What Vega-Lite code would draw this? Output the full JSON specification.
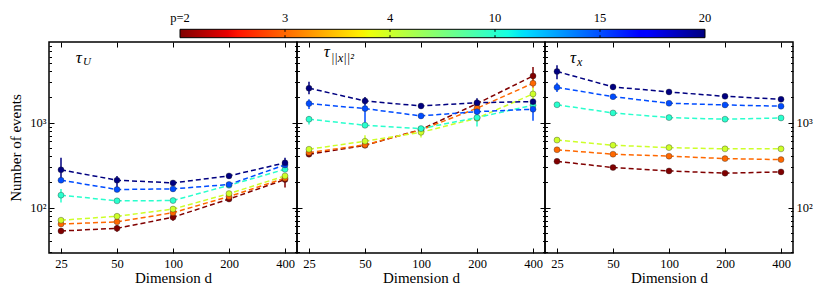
{
 "$schema": "https://vega.github.io/schema/vega-lite/v6.json",
 "padding": {"left": 8, "top": 11, "right": 5, "bottom": 5},
 "autosize": {"type": "pad"},
 "background": "white",
 "spacing": 0,
 "bounds": "flush",
 "config": {
  "font": "Liberation Serif, DejaVu Serif, serif",
  "view": {"stroke": "black", "strokeWidth": 1.5},
  "axis": {"grid": false, "domain": false, "tickColor": "black", "tickWidth": 1, "labelColor": "black", "labelFontSize": 12.5, "titleColor": "black", "titleFontSize": 15, "titleFontWeight": "normal", "labelFont": "Liberation Serif, DejaVu Serif, serif", "titleFont": "Liberation Serif, DejaVu Serif, serif"},
  "text": {"font": "Liberation Serif, DejaVu Serif, serif", "color": "black"}
 },
 "datasets": {
  "U": [
   {"d":25,"p":2,"n":53,"lo":51,"hi":55},{"d":50,"p":2,"n":57,"lo":52,"hi":62},{"d":100,"p":2,"n":77,"lo":70,"hi":87},{"d":200,"p":2,"n":126,"lo":120,"hi":132},{"d":400,"p":2,"n":214,"lo":172,"hi":247},
   {"d":25,"p":3,"n":64,"lo":62,"hi":66},{"d":50,"p":3,"n":68,"lo":66,"hi":70},{"d":100,"p":3,"n":87,"lo":84,"hi":90},{"d":200,"p":3,"n":135,"lo":130,"hi":140},{"d":400,"p":3,"n":222,"lo":212,"hi":232},
   {"d":25,"p":4,"n":71,"lo":68,"hi":74},{"d":50,"p":4,"n":79,"lo":76,"hi":82},{"d":100,"p":4,"n":96,"lo":92,"hi":100},{"d":200,"p":4,"n":146,"lo":140,"hi":152},{"d":400,"p":4,"n":236,"lo":226,"hi":246},
   {"d":25,"p":10,"n":140,"lo":115,"hi":165},{"d":50,"p":10,"n":120,"lo":115,"hi":125},{"d":100,"p":10,"n":121,"lo":116,"hi":126},{"d":200,"p":10,"n":183,"lo":175,"hi":191},{"d":400,"p":10,"n":282,"lo":268,"hi":296},
   {"d":25,"p":15,"n":210,"lo":198,"hi":222},{"d":50,"p":15,"n":163,"lo":155,"hi":171},{"d":100,"p":15,"n":166,"lo":158,"hi":174},{"d":200,"p":15,"n":187,"lo":178,"hi":196},{"d":400,"p":15,"n":318,"lo":300,"hi":336},
   {"d":25,"p":20,"n":278,"lo":216,"hi":387},{"d":50,"p":20,"n":210,"lo":172,"hi":236},{"d":100,"p":20,"n":195,"lo":186,"hi":204},{"d":200,"p":20,"n":236,"lo":226,"hi":246},{"d":400,"p":20,"n":336,"lo":296,"hi":387}
  ],
  "X2": [
   {"d":25,"p":2,"n":425,"lo":410,"hi":440},{"d":50,"p":2,"n":540,"lo":520,"hi":560},{"d":100,"p":2,"n":830,"lo":800,"hi":860},{"d":200,"p":2,"n":1675,"lo":1600,"hi":1750},{"d":400,"p":2,"n":3540,"lo":2960,"hi":4520},
   {"d":25,"p":3,"n":444,"lo":428,"hi":460},{"d":50,"p":3,"n":547,"lo":525,"hi":570},{"d":100,"p":3,"n":820,"lo":790,"hi":850},{"d":200,"p":3,"n":1477,"lo":1400,"hi":1560},{"d":400,"p":3,"n":2906,"lo":2550,"hi":3300},
   {"d":25,"p":4,"n":486,"lo":465,"hi":505},{"d":50,"p":4,"n":604,"lo":510,"hi":710},{"d":100,"p":4,"n":770,"lo":670,"hi":860},{"d":200,"p":4,"n":1126,"lo":1080,"hi":1175},{"d":400,"p":4,"n":2176,"lo":1850,"hi":2580},
   {"d":25,"p":10,"n":1097,"lo":950,"hi":1200},{"d":50,"p":10,"n":931,"lo":890,"hi":975},{"d":100,"p":10,"n":850,"lo":800,"hi":900},{"d":200,"p":10,"n":1146,"lo":900,"hi":1380},{"d":400,"p":10,"n":1602,"lo":1350,"hi":1850},
   {"d":25,"p":15,"n":1675,"lo":1450,"hi":1880},{"d":50,"p":15,"n":1462,"lo":915,"hi":1645},{"d":100,"p":15,"n":1200,"lo":1130,"hi":1270},{"d":200,"p":15,"n":1346,"lo":1270,"hi":1430},{"d":400,"p":15,"n":1438,"lo":1050,"hi":1650},
   {"d":25,"p":20,"n":2540,"lo":2160,"hi":3030},{"d":50,"p":20,"n":1800,"lo":1620,"hi":2000},{"d":100,"p":20,"n":1570,"lo":1480,"hi":1660},{"d":200,"p":20,"n":1718,"lo":1500,"hi":1930},{"d":400,"p":20,"n":1766,"lo":1680,"hi":1860}
  ],
  "X": [
   {"d":25,"p":2,"n":350,"lo":338,"hi":362},{"d":50,"p":2,"n":296,"lo":286,"hi":306},{"d":100,"p":2,"n":270,"lo":261,"hi":279},{"d":200,"p":2,"n":254,"lo":245,"hi":263},{"d":400,"p":2,"n":263,"lo":254,"hi":272},
   {"d":25,"p":3,"n":479,"lo":463,"hi":495},{"d":50,"p":3,"n":425,"lo":411,"hi":439},{"d":100,"p":3,"n":403,"lo":390,"hi":416},{"d":200,"p":3,"n":377,"lo":364,"hi":390},{"d":400,"p":3,"n":367,"lo":355,"hi":379},
   {"d":25,"p":4,"n":623,"lo":602,"hi":644},{"d":50,"p":4,"n":542,"lo":524,"hi":560},{"d":100,"p":4,"n":508,"lo":491,"hi":525},{"d":200,"p":4,"n":491,"lo":475,"hi":507},{"d":400,"p":4,"n":491,"lo":475,"hi":507},
   {"d":25,"p":10,"n":1622,"lo":1560,"hi":1690},{"d":50,"p":10,"n":1300,"lo":1255,"hi":1345},{"d":100,"p":10,"n":1146,"lo":1108,"hi":1184},{"d":200,"p":10,"n":1097,"lo":1060,"hi":1134},{"d":400,"p":10,"n":1135,"lo":1097,"hi":1173},
   {"d":25,"p":15,"n":2600,"lo":2300,"hi":2950},{"d":50,"p":15,"n":2020,"lo":1930,"hi":2110},{"d":100,"p":15,"n":1690,"lo":1630,"hi":1750},{"d":200,"p":15,"n":1615,"lo":1560,"hi":1670},{"d":400,"p":15,"n":1560,"lo":1505,"hi":1615},
   {"d":25,"p":20,"n":4000,"lo":3240,"hi":4730},{"d":50,"p":20,"n":2630,"lo":2450,"hi":2820},{"d":100,"p":20,"n":2297,"lo":2210,"hi":2385},{"d":200,"p":20,"n":2040,"lo":1965,"hi":2115},{"d":400,"p":20,"n":1882,"lo":1810,"hi":1955}
  ],
  "cbar": [
   {"p":2,"idx":0,"label":"p=2"},{"p":3,"idx":1,"label":"3"},{"p":4,"idx":2,"label":"4"},{"p":10,"idx":3,"label":"10"},{"p":15,"idx":4,"label":"15"},{"p":20,"idx":5,"label":"20"}
  ]
 },
 "hconcat": [
  {
   "width": 248, "height": 211,
   "data": {"name": "U"},
   "layer": [
    {"mark": {"type": "rule", "strokeWidth": 1.5},
     "encoding": {
      "x": {"field": "d", "type": "quantitative", "scale": {"type": "log", "domain": [21.55, 464], "nice": false}, "axis": {"orient": "bottom", "values": [25, 50, 100, 200, 400], "format": "d", "tickSize": -5, "labelPadding": 9, "title": "Dimension d", "titlePadding": 1}},
      "y": {"field": "lo", "type": "quantitative", "scale": {"type": "log", "domain": [29.2, 8890], "nice": false}, "axis": {"orient": "left", "values": [100, 1000], "tickSize": -5, "labelPadding": 8, "labelExpr": "datum.value == 100 ? '10²' : '10³'", "title": "Number of events", "titlePadding": 6}},
      "y2": {"field": "hi"},
      "color": {"field": "p", "type": "ordinal", "scale": {"domain": [2, 3, 4, 10, 15, 20], "range": ["#800000", "#ff6800", "#cdff29", "#29ffcd", "#004cff", "#000080"]}, "legend": null}
     }},
    {"mark": {"type": "line", "strokeWidth": 1.5, "strokeDash": [5, 3]},
     "encoding": {
      "x": {"field": "d", "type": "quantitative", "scale": {"type": "log", "domain": [21.55, 464], "nice": false}, "axis": {"orient": "top", "values": [25, 50, 100, 200, 400], "tickSize": -5, "labels": false, "title": null}},
      "y": {"field": "n", "type": "quantitative", "scale": {"type": "log", "domain": [29.2, 8890], "nice": false}, "axis": {"orient": "right", "values": [100, 1000], "tickSize": -5, "labels": false, "title": null}},
      "color": {"field": "p", "type": "ordinal", "scale": {"domain": [2, 3, 4, 10, 15, 20], "range": ["#800000", "#ff6800", "#cdff29", "#29ffcd", "#004cff", "#000080"]}, "legend": null}
     }},
    {"mark": {"type": "circle", "size": 36, "opacity": 1, "stroke": "#222222", "strokeWidth": 0.5, "strokeOpacity": 0.7},
     "encoding": {
      "x": {"field": "d", "type": "quantitative", "scale": {"type": "log", "domain": [21.55, 464], "nice": false}, "axis": null},
      "y": {"field": "n", "type": "quantitative", "scale": {"type": "log", "domain": [29.2, 8890], "nice": false}, "axis": {"orient": "left", "values": [30, 40, 50, 60, 70, 80, 90, 200, 300, 400, 500, 600, 700, 800, 900, 2000, 3000, 4000, 5000, 6000, 7000, 8000], "tickSize": -2.5, "labels": false, "title": null}},
      "color": {"field": "p", "type": "ordinal", "scale": {"domain": [2, 3, 4, 10, 15, 20], "range": ["#800000", "#ff6800", "#cdff29", "#29ffcd", "#004cff", "#000080"]}, "legend": null}
     }},
    {"data": {"values": [{}]},
     "mark": {"type": "text", "text": "τ", "fontSize": 17, "fontStyle": "italic", "align": "center", "baseline": "middle"},
     "encoding": {
      "x": {"datum": 31.2, "type": "quantitative", "scale": {"type": "log", "domain": [21.55, 464], "nice": false}, "axis": null},
      "y": {"datum": 5770, "type": "quantitative", "scale": {"type": "log", "domain": [29.2, 8890], "nice": false}, "axis": {"orient": "right", "values": [30, 40, 50, 60, 70, 80, 90, 200, 300, 400, 500, 600, 700, 800, 900, 2000, 3000, 4000, 5000, 6000, 7000, 8000], "tickSize": -2.5, "labels": false, "title": null}}
     }},
    {"data": {"values": [{}]},
     "mark": {"type": "text", "text": "U", "fontSize": 11, "fontStyle": "italic", "align": "left", "baseline": "middle", "dx": 4, "dy": 4},
     "encoding": {
      "x": {"datum": 31.2, "type": "quantitative", "scale": {"type": "log", "domain": [21.55, 464], "nice": false}, "axis": null},
      "y": {"datum": 5770, "type": "quantitative", "scale": {"type": "log", "domain": [29.2, 8890], "nice": false}, "axis": null}
     }}
   ],
   "resolve": {"scale": {"x": "independent", "y": "independent"}}
  },
  {
   "width": 248, "height": 211,
   "data": {"name": "X2"},
   "layer": [
    {"mark": {"type": "rule", "strokeWidth": 1.5},
     "encoding": {
      "x": {"field": "d", "type": "quantitative", "scale": {"type": "log", "domain": [21.55, 464], "nice": false}, "axis": {"orient": "bottom", "values": [25, 50, 100, 200, 400], "format": "d", "tickSize": -5, "labelPadding": 9, "title": "Dimension d", "titlePadding": 1}},
      "y": {"field": "lo", "type": "quantitative", "scale": {"type": "log", "domain": [29.2, 8890], "nice": false}, "axis": {"orient": "left", "values": [100, 1000], "tickSize": -5, "labels": false, "title": null}},
      "y2": {"field": "hi"},
      "color": {"field": "p", "type": "ordinal", "scale": {"domain": [2, 3, 4, 10, 15, 20], "range": ["#800000", "#ff6800", "#cdff29", "#29ffcd", "#004cff", "#000080"]}, "legend": null}
     }},
    {"mark": {"type": "line", "strokeWidth": 1.5, "strokeDash": [5, 3]},
     "encoding": {
      "x": {"field": "d", "type": "quantitative", "scale": {"type": "log", "domain": [21.55, 464], "nice": false}, "axis": {"orient": "top", "values": [25, 50, 100, 200, 400], "tickSize": -5, "labels": false, "title": null}},
      "y": {"field": "n", "type": "quantitative", "scale": {"type": "log", "domain": [29.2, 8890], "nice": false}, "axis": {"orient": "right", "values": [100, 1000], "tickSize": -5, "labels": false, "title": null}},
      "color": {"field": "p", "type": "ordinal", "scale": {"domain": [2, 3, 4, 10, 15, 20], "range": ["#800000", "#ff6800", "#cdff29", "#29ffcd", "#004cff", "#000080"]}, "legend": null}
     }},
    {"mark": {"type": "circle", "size": 36, "opacity": 1, "stroke": "#222222", "strokeWidth": 0.5, "strokeOpacity": 0.7},
     "encoding": {
      "x": {"field": "d", "type": "quantitative", "scale": {"type": "log", "domain": [21.55, 464], "nice": false}, "axis": null},
      "y": {"field": "n", "type": "quantitative", "scale": {"type": "log", "domain": [29.2, 8890], "nice": false}, "axis": {"orient": "left", "values": [30, 40, 50, 60, 70, 80, 90, 200, 300, 400, 500, 600, 700, 800, 900, 2000, 3000, 4000, 5000, 6000, 7000, 8000], "tickSize": -2.5, "labels": false, "title": null}},
      "color": {"field": "p", "type": "ordinal", "scale": {"domain": [2, 3, 4, 10, 15, 20], "range": ["#800000", "#ff6800", "#cdff29", "#29ffcd", "#004cff", "#000080"]}, "legend": null}
     }},
    {"data": {"values": [{}]},
     "mark": {"type": "text", "text": "τ", "fontSize": 17, "fontStyle": "italic", "align": "center", "baseline": "middle"},
     "encoding": {
      "x": {"datum": 31.2, "type": "quantitative", "scale": {"type": "log", "domain": [21.55, 464], "nice": false}, "axis": null},
      "y": {"datum": 6790, "type": "quantitative", "scale": {"type": "log", "domain": [29.2, 8890], "nice": false}, "axis": {"orient": "right", "values": [30, 40, 50, 60, 70, 80, 90, 200, 300, 400, 500, 600, 700, 800, 900, 2000, 3000, 4000, 5000, 6000, 7000, 8000], "tickSize": -2.5, "labels": false, "title": null}}
     }},
    {"data": {"values": [{}]},
     "mark": {"type": "text", "text": "||x||²", "fontSize": 12.5, "fontStyle": "italic", "align": "left", "baseline": "middle", "dx": 4, "dy": 6},
     "encoding": {
      "x": {"datum": 31.2, "type": "quantitative", "scale": {"type": "log", "domain": [21.55, 464], "nice": false}, "axis": null},
      "y": {"datum": 6790, "type": "quantitative", "scale": {"type": "log", "domain": [29.2, 8890], "nice": false}, "axis": null}
     }},
    {"data": {"values": [{}]},
     "mark": {"type": "rect", "fill": {"gradient": "linear", "stops": [
       {"offset": 0, "color": "#800000"}, {"offset": 0.09, "color": "#e80000"}, {"offset": 0.11, "color": "#ff1300"}, {"offset": 0.34, "color": "#ffec00"}, {"offset": 0.35, "color": "#f7f500"}, {"offset": 0.36, "color": "#eeff08"}, {"offset": 0.625, "color": "#14ffe2"}, {"offset": 0.65, "color": "#00e5f7"}, {"offset": 0.66, "color": "#00dbff"}, {"offset": 0.875, "color": "#0000ff"}, {"offset": 0.89, "color": "#0000ff"}, {"offset": 1, "color": "#000080"}]},
      "stroke": "black", "strokeWidth": 1},
     "encoding": {
      "x": {"datum": 0, "type": "quantitative", "scale": {"domain": [0, 5], "range": [-117, 408], "zero": false, "nice": false}, "axis": null},
      "x2": {"datum": 5},
      "y": {"datum": 0, "type": "quantitative", "scale": {"domain": [0, 1], "range": [-4.3, -12.7], "zero": false, "nice": false}, "axis": null},
      "y2": {"datum": 1}
     }},
    {"data": {"name": "cbar"},
     "transform": [{"filter": "datum.idx > 0 && datum.idx < 5"}],
     "mark": {"type": "rule", "color": "black", "strokeWidth": 1},
     "encoding": {
      "x": {"field": "idx", "type": "quantitative", "scale": {"domain": [0, 5], "range": [-117, 408], "zero": false, "nice": false}, "axis": null},
      "y": {"datum": 0, "type": "quantitative", "scale": {"domain": [0, 1], "range": [-4.3, -12.7], "zero": false, "nice": false}, "axis": null},
      "y2": {"datum": 0.3}
     }},
    {"data": {"name": "cbar"},
     "transform": [{"filter": "datum.idx > 0 && datum.idx < 5"}],
     "mark": {"type": "rule", "color": "black", "strokeWidth": 1},
     "encoding": {
      "x": {"field": "idx", "type": "quantitative", "scale": {"domain": [0, 5], "range": [-117, 408], "zero": false, "nice": false}, "axis": null},
      "y": {"datum": 0.7, "type": "quantitative", "scale": {"domain": [0, 1], "range": [-4.3, -12.7], "zero": false, "nice": false}, "axis": null},
      "y2": {"datum": 1}
     }},
    {"data": {"name": "cbar"},
     "mark": {"type": "text", "fontSize": 12.5, "align": "center", "baseline": "alphabetic", "dy": -7.3},
     "encoding": {
      "x": {"field": "idx", "type": "quantitative", "scale": {"domain": [0, 5], "range": [-117, 408], "zero": false, "nice": false}, "axis": null},
      "y": {"datum": 1, "type": "quantitative", "scale": {"domain": [0, 1], "range": [-4.3, -12.7], "zero": false, "nice": false}, "axis": null},
      "text": {"field": "label"}
     }}
   ],
   "resolve": {"scale": {"x": "independent", "y": "independent"}}
  },
  {
   "width": 248, "height": 211,
   "data": {"name": "X"},
   "layer": [
    {"mark": {"type": "rule", "strokeWidth": 1.5},
     "encoding": {
      "x": {"field": "d", "type": "quantitative", "scale": {"type": "log", "domain": [21.55, 464], "nice": false}, "axis": {"orient": "bottom", "values": [25, 50, 100, 200, 400], "format": "d", "tickSize": -5, "labelPadding": 9, "title": "Dimension d", "titlePadding": 1}},
      "y": {"field": "lo", "type": "quantitative", "scale": {"type": "log", "domain": [29.2, 8890], "nice": false}, "axis": {"orient": "left", "values": [100, 1000], "tickSize": -5, "labels": false, "title": null}},
      "y2": {"field": "hi"},
      "color": {"field": "p", "type": "ordinal", "scale": {"domain": [2, 3, 4, 10, 15, 20], "range": ["#800000", "#ff6800", "#cdff29", "#29ffcd", "#004cff", "#000080"]}, "legend": null}
     }},
    {"mark": {"type": "line", "strokeWidth": 1.5, "strokeDash": [5, 3]},
     "encoding": {
      "x": {"field": "d", "type": "quantitative", "scale": {"type": "log", "domain": [21.55, 464], "nice": false}, "axis": {"orient": "top", "values": [25, 50, 100, 200, 400], "tickSize": -5, "labels": false, "title": null}},
      "y": {"field": "n", "type": "quantitative", "scale": {"type": "log", "domain": [29.2, 8890], "nice": false}, "axis": {"orient": "right", "values": [100, 1000], "tickSize": -5, "labelPadding": 8, "labelExpr": "datum.value == 100 ? '10²' : '10³'", "title": null}},
      "color": {"field": "p", "type": "ordinal", "scale": {"domain": [2, 3, 4, 10, 15, 20], "range": ["#800000", "#ff6800", "#cdff29", "#29ffcd", "#004cff", "#000080"]}, "legend": null}
     }},
    {"mark": {"type": "circle", "size": 36, "opacity": 1, "stroke": "#222222", "strokeWidth": 0.5, "strokeOpacity": 0.7},
     "encoding": {
      "x": {"field": "d", "type": "quantitative", "scale": {"type": "log", "domain": [21.55, 464], "nice": false}, "axis": null},
      "y": {"field": "n", "type": "quantitative", "scale": {"type": "log", "domain": [29.2, 8890], "nice": false}, "axis": {"orient": "left", "values": [30, 40, 50, 60, 70, 80, 90, 200, 300, 400, 500, 600, 700, 800, 900, 2000, 3000, 4000, 5000, 6000, 7000, 8000], "tickSize": -2.5, "labels": false, "title": null}},
      "color": {"field": "p", "type": "ordinal", "scale": {"domain": [2, 3, 4, 10, 15, 20], "range": ["#800000", "#ff6800", "#cdff29", "#29ffcd", "#004cff", "#000080"]}, "legend": null}
     }},
    {"data": {"values": [{}]},
     "mark": {"type": "text", "text": "τ", "fontSize": 17, "fontStyle": "italic", "align": "center", "baseline": "middle"},
     "encoding": {
      "x": {"datum": 30.5, "type": "quantitative", "scale": {"type": "log", "domain": [21.55, 464], "nice": false}, "axis": null},
      "y": {"datum": 5770, "type": "quantitative", "scale": {"type": "log", "domain": [29.2, 8890], "nice": false}, "axis": {"orient": "right", "values": [30, 40, 50, 60, 70, 80, 90, 200, 300, 400, 500, 600, 700, 800, 900, 2000, 3000, 4000, 5000, 6000, 7000, 8000], "tickSize": -2.5, "labels": false, "title": null}}
     }},
    {"data": {"values": [{}]},
     "mark": {"type": "text", "text": "x", "fontSize": 12, "fontStyle": "italic", "align": "left", "baseline": "middle", "dx": 4, "dy": 4},
     "encoding": {
      "x": {"datum": 30.5, "type": "quantitative", "scale": {"type": "log", "domain": [21.55, 464], "nice": false}, "axis": null},
      "y": {"datum": 5770, "type": "quantitative", "scale": {"type": "log", "domain": [29.2, 8890], "nice": false}, "axis": null}
     }}
   ],
   "resolve": {"scale": {"x": "independent", "y": "independent"}}
  }
 ]
}
